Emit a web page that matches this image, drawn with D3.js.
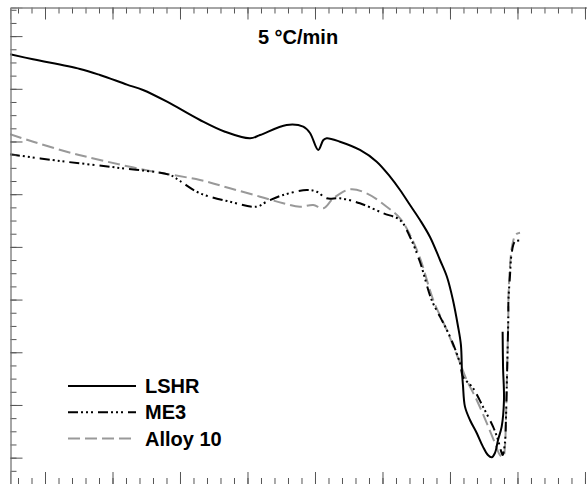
<!DOCTYPE html>
<html>
<head>
<meta charset="utf-8">
<script src="https://cdn.jsdelivr.net/npm/d3@7"></script>
<style>
  body { margin: 0; background: #fff; }
  text { font-family: "Liberation Sans", Arial, sans-serif; }
</style>
</head>
<body>
<div id="chart"></div>
<script>
// temperature (°C) and heat flow (a.u.)
const lshrT = [974.1, 991.1, 1025.9, 1040.7, 1060.7, 1072.6, 1090.4, 1114.8, 1133.3, 1151.9, 1159.3, 1179.0, 1191.3, 1196.3, 1202.4, 1206.2, 1208.7, 1218.5, 1233.3, 1245.7, 1255.6, 1263.0, 1270.4, 1277.8, 1285.2, 1292.6, 1297.8, 1302.2, 1305.9, 1308.1, 1308.9, 1309.6, 1311.1, 1314.8, 1319.8, 1324.4, 1328.1, 1330.9, 1333.3, 1335.6, 1338.3, 1340.0, 1339.3, 1339.0];
const lshrV = [7.655, 7.56, 7.376, 7.262, 7.08, 6.977, 6.755, 6.408, 6.186, 6.061, 6.123, 6.313, 6.281, 6.161, 5.839, 6.028, 6.061, 5.996, 5.839, 5.617, 5.332, 5.08, 4.795, 4.51, 4.188, 3.751, 3.429, 2.992, 2.499, 2.139, 1.626, 1.38, 0.968, 0.715, 0.469, 0.209, 0.051, 0.008, 0.089, 0.336, 0.588, 1.095, 1.727, 2.391];

const me3T = [974.1, 1011.1, 1055.6, 1092.6, 1100.0, 1114.8, 1137.0, 1156.8, 1164.2, 1176.5, 1193.9, 1201.3, 1208.7, 1218.5, 1233.3, 1250.6, 1263.0, 1270.4, 1277.8, 1286.4, 1292.6, 1300.0, 1307.4, 1309.6, 1317.0, 1324.4, 1331.9, 1335.6, 1337.6, 1339.0, 1340.7, 1341.5, 1342.4, 1343.2, 1343.3, 1344.4, 1345.7, 1348.1, 1353.1];
const me3V = [5.757, 5.63, 5.497, 5.364, 5.25, 5.017, 4.858, 4.763, 4.858, 4.985, 5.08, 5.047, 4.922, 4.922, 4.827, 4.638, 4.51, 4.188, 3.713, 2.992, 2.676, 2.296, 1.797, 1.537, 1.323, 0.968, 0.588, 0.336, 0.146, 0.051, 0.279, 0.778, 1.727, 2.676, 2.992, 3.435, 3.879, 4.099, 4.118];

const alloyT = [974.1, 991.3, 1016.1, 1040.7, 1077.8, 1114.8, 1137.0, 1159.3, 1176.5, 1188.9, 1198.7, 1206.2, 1213.6, 1225.9, 1238.3, 1253.1, 1263.0, 1270.4, 1277.8, 1287.6, 1297.6, 1307.4, 1312.4, 1319.8, 1327.2, 1333.3, 1337.0, 1339.5, 1340.7, 1341.5, 1342.4, 1343.2, 1343.3, 1344.4, 1346.4, 1348.9, 1351.9];
const alloyV = [6.137, 5.996, 5.806, 5.649, 5.44, 5.269, 5.112, 4.953, 4.827, 4.763, 4.795, 4.732, 4.922, 5.093, 5.017, 4.763, 4.543, 4.226, 3.789, 2.992, 2.423, 1.797, 1.474, 1.095, 0.658, 0.279, 0.051, 0.019, 0.209, 0.778, 1.727, 2.676, 2.992, 3.624, 4.068, 4.239, 4.269];

const seriesNames = ["LSHR", "ME3", "Alloy 10"];
const xMajor = [1000, 1050, 1100, 1150, 1200, 1250, 1300, 1350, 1400];
const xMinor = d3.range(980, 1401, 10);
const yMajor = [0, 1, 2, 3, 4, 5, 6, 7, 8];
const yMinor = d3.range(-0.5, 8.51, 0.25);
const title = "5 °C/min";

const width = 587, height = 484;
const svg = d3.select("#chart").append("svg")
  .attr("width", width)
  .attr("height", height);

const x = d3.scaleLinear().domain([974.07, 1401.5]).range([10, 587]);
const y = d3.scaleLinear().domain([-0.5, 8.543]).range([484, 7.5]);

svg.append("clipPath").attr("id", "clip")
  .append("rect").attr("x", 10).attr("y", 7.5).attr("width", 577).attr("height", 477);

const styles = [
  { color: "#000", dash: null },
  { color: "#000", dash: "10,3,2,3,2,3,2,5" },
  { color: "#999", dash: "12,5" }
];
const series = [
  d3.zip(lshrT, lshrV),
  d3.zip(me3T, me3V),
  d3.zip(alloyT, alloyV)
];

const line = d3.line()
  .x((d) => x(d[0]))
  .y((d) => y(d[1]))
  .curve(d3.curveCatmullRom.alpha(0.5));

// grey one goes underneath
[2, 1, 0].forEach((i) => {
  svg.append("path")
    .datum(series[i])
    .attr("clip-path", "url(#clip)")
    .attr("fill", "none")
    .attr("stroke", styles[i].color)
    .attr("stroke-width", 2)
    .attr("stroke-dasharray", styles[i].dash)
    .attr("d", line);
});

function ticks(axis, vals, size) {
  return axis.tickValues(vals).tickSize(size).tickFormat("");
}
const axisColor = "#555";

const topAxis = svg.append("g").attr("transform", "translate(0,7.5)");
topAxis.append("g").call(ticks(d3.axisTop(x), xMinor, -6));
topAxis.append("g").call(ticks(d3.axisTop(x), xMajor, -12));

const bottomAxis = svg.append("g").attr("transform", "translate(0,484)");
bottomAxis.append("g").call(ticks(d3.axisBottom(x), xMinor, -6));
bottomAxis.append("g").call(ticks(d3.axisBottom(x), xMajor, -12));

const leftAxis = svg.append("g").attr("transform", "translate(10.5,0)");
leftAxis.append("g").call(ticks(d3.axisLeft(y), yMinor, -6));
leftAxis.append("g").call(ticks(d3.axisLeft(y), yMajor, -12));

svg.selectAll(".domain").attr("stroke", "#888");
svg.selectAll(".tick line").attr("stroke", axisColor);

svg.append("text")
  .attr("x", 298)
  .attr("y", 44)
  .attr("text-anchor", "middle")
  .attr("font-size", 20)
  .attr("font-weight", "bold")
  .text(title);

const legend = svg.append("g");
seriesNames.forEach((name, i) => {
  const ly = 386 + i * 26.3;
  legend.append("line")
    .attr("x1", 68).attr("x2", 136)
    .attr("y1", ly).attr("y2", ly)
    .attr("stroke", styles[i].color)
    .attr("stroke-width", 2)
    .attr("stroke-dasharray", styles[i].dash);
  legend.append("text")
    .attr("x", 145)
    .attr("y", ly + 7)
    .attr("font-size", 20)
    .attr("font-weight", "bold")
    .text(name);
});
</script>
</body>
</html>
